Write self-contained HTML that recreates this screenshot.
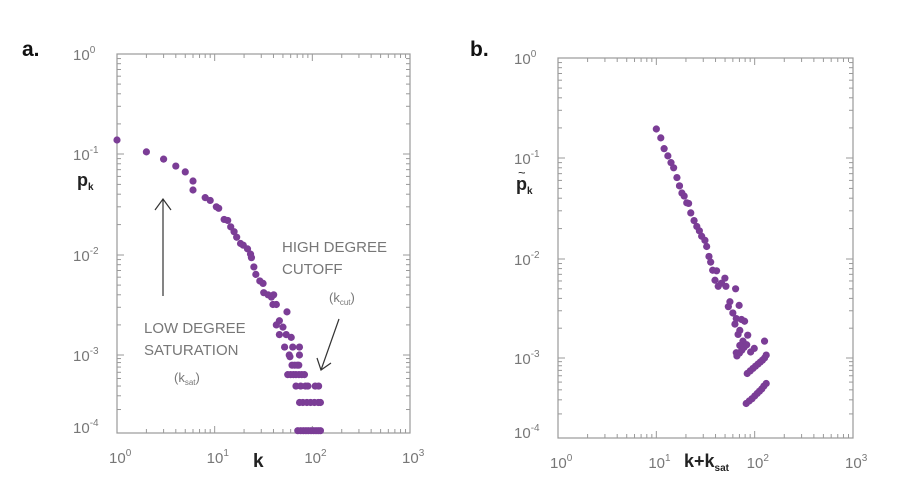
<!DOCTYPE html>
<html><head><meta charset="utf-8"><style>
body{margin:0;background:#fff;}
svg{display:block;font-family:"Liberation Sans",sans-serif;}
</style></head><body>
<svg width="900" height="498" viewBox="0 0 900 498">
<text x="22" y="56" font-size="21" font-weight="bold" fill="#111">a.</text>
<text x="470" y="56" font-size="21" font-weight="bold" fill="#111">b.</text>
<g id="pa"></g>
<g id="pb"></g>
<text x="77" y="186" font-size="18" font-weight="bold" fill="#222">p<tspan font-size="10" dy="4">k</tspan></text>
<text x="253" y="467" font-size="19" font-weight="bold" fill="#222">k</text>
<text x="516" y="190" font-size="18" font-weight="bold" fill="#222">p<tspan font-size="10" dy="4">k</tspan></text>
<text x="518" y="177" font-size="13" fill="#222">~</text>
<text x="684" y="467" font-size="18" font-weight="bold" fill="#222">k+k<tspan font-size="10" dy="4">sat</tspan></text>
<g fill="#777" font-size="15">
<text x="282" y="252">HIGH DEGREE</text>
<text x="282" y="274">CUTOFF</text>
<text x="329" y="302" font-size="13">(k<tspan font-size="8" dy="3">cut</tspan><tspan dy="-3">)</tspan></text>
<text x="144" y="333">LOW DEGREE</text>
<text x="144" y="355">SATURATION</text>
<text x="174" y="382" font-size="13">(k<tspan font-size="8" dy="3">sat</tspan><tspan dy="-3">)</tspan></text>
</g>
<g stroke="#333" stroke-width="1.2" fill="none">
<line x1="163" y1="296" x2="163" y2="199"/>
<polyline points="155,210 163,199 171,210"/>
<line x1="339" y1="319" x2="321" y2="370"/>
<polyline points="317,358 321,370 331,363"/>
</g>
</svg>
<script>
// Panel a data
const kA=[1,2,3,4,5,6,6,8,9,10.4,11,12.5,13.6,14.6,15.8,16.8,18.4,19.6,21.7,23.3,23.8,25.2,26.4,29,31.3,31.8,35.2,38.1,40.2,42.8,39.5,55,46,42.8,50,46,54,60.8,52,63,73.8,58,73.8,59,72.6,62,66,70,56,60,64,68,73,78,83,68,76,85,90,107,116,74,80,88,96,105,115,121,71,76,81,86,91,97,103,109,115,121];
const pA=[0.138,0.105,0.089,0.076,0.0665,0.054,0.044,0.037,0.0347,0.030,0.029,0.0225,0.022,0.019,0.017,0.015,0.013,0.0125,0.0115,0.0102,0.0094,0.0076,0.0064,0.0055,0.0052,0.0042,0.0040,0.0038,0.0040,0.0032,0.0032,0.0027,0.0022,0.0020,0.0019,0.0016,0.0016,0.0015,0.0012,0.0012,0.0012,0.0010,0.0010,0.00095,0.00074,0.00074,0.00074,0.00074,0.00056,0.00056,0.00056,0.00056,0.00056,0.00056,0.00056,0.0004,0.0004,0.0004,0.0004,0.0004,0.0004,0.000246,0.000246,0.000246,0.000246,0.000246,0.000246,0.000246,0.000107,0.000107,0.000107,0.000107,0.000107,0.000107,0.000107,0.000107,0.000107,0.000107];
// Panel b data
const kB=[10,11.1,12,13.1,14.1,15,16.2,17.2,18.2,19.2,20.4,21.3,22.4,24.2,25.8,27.4,28.9,31.2,32.5,34.3,35.7,37.4,41,39.5,42.6,46,49.8,51,64,56,54,69.5,60,65,73.4,79,63,70.6,67.8,85,76,70.6,65,66,70,74,78,83,91,99,126,84,90,96,102,108,114,120,126,131,82,88,94,100,106,112,118,124,131];
const pB=[0.195,0.159,0.124,0.105,0.090,0.080,0.064,0.053,0.045,0.042,0.036,0.0355,0.0286,0.024,0.021,0.019,0.0168,0.0153,0.0133,0.0106,0.0093,0.0077,0.0076,0.0061,0.0053,0.0057,0.0064,0.0053,0.0050,0.0037,0.0033,0.0034,0.00285,0.0025,0.00245,0.00235,0.0022,0.0019,0.00173,0.0017,0.00148,0.00134,0.00113,0.00105,0.00112,0.0012,0.00128,0.00136,0.00115,0.00125,0.00148,0.00064,0.00069,0.00074,0.00079,0.00084,0.00089,0.00094,0.001,0.00107,0.00027,0.00029,0.00031,0.000335,0.00036,0.000385,0.00041,0.000445,0.00048];
const xTickLabels=["0","1","2","3"];
const yTickLabels=["0","-1","-2","-3","-4"];
const NS="http://www.w3.org/2000/svg";
function mk(tag,attrs,parent){const e=document.createElementNS(NS,tag);for(const k in attrs)e.setAttribute(k,attrs[k]);parent.appendChild(e);return e;}
function panel(g,L,R,T,B,yPos,ks,ps,nm){
  const xs=v=>L+(R-L)*Math.log10(v)/3;
  const ys=v=>{const l=-Math.log10(v);const i=Math.min(3,Math.max(0,Math.floor(l)));return yPos[i]+(yPos[i+1]-yPos[i])*(l-i);};
  const fr=mk('rect',{x:L,y:T,width:R-L,height:B-T,fill:'none',stroke:'#999','stroke-width':1.2},g);
  
  
  for(let d=0;d<3;d++)for(let m=1;m<10;m++){const x=xs(m*Math.pow(10,d));const len=m===1?7:4;
    if(m>1||d>0){const t=mk('line',{x1:x,x2:x,y1:B,y2:B-len,stroke:'#999'},g);
    const t2=mk('line',{x1:x,x2:x,y1:T,y2:T+len,stroke:'#999'},g);}}
  for(let d=0;d<4;d++)for(let m=1;m<10;m++){const y=ys(m*Math.pow(10,-d-1));const len=m===1?7:4;
    const t=mk('line',{x1:L,x2:L+len,y1:y,y2:y,stroke:'#999'},g);
    const t2=mk('line',{x1:R,x2:R-len,y1:y,y2:y,stroke:'#999'},g);}
  xTickLabels.forEach((lab,i)=>{const t=mk('text',{x:xs(Math.pow(10,+lab))-8,y:B+30,'font-size':15,fill:'#777'},g);
    
    t.innerHTML='10<tspan font-size="10" dy="-7">'+lab+'</tspan>';});
  yTickLabels.forEach((lab,i)=>{const t=mk('text',{x:L-44,y:ys(Math.pow(10,+lab))+(i==4?0:6),'font-size':15,fill:'#777'},g);
    
    t.innerHTML='10<tspan font-size="10" dy="-7">'+lab+'</tspan>';});
  ks.forEach((k,i)=>{const c=mk('circle',{cx:xs(k),cy:ys(ps[i]),r:3.6,fill:'#7b3d96'},g);
    });
}
panel(document.getElementById('pa'),117,410,54,433,[54,154,255,355,433],kA,pA,'point-a');
panel(document.getElementById('pb'),558,853,58,438,[58,158,259,358,438],kB,pB,'point-b');
</script>
</body></html>
